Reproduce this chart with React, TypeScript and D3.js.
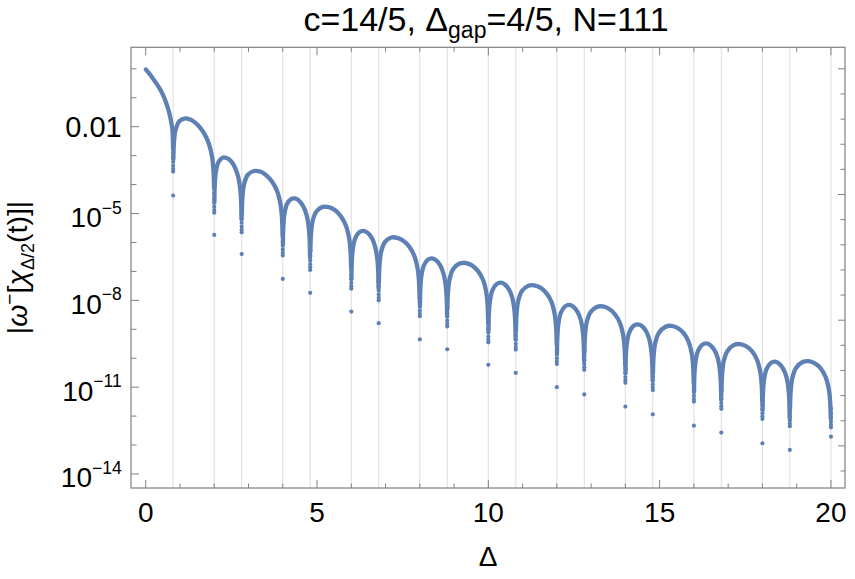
import React from "react";
import * as d3 from "d3";

// ---------- data ----------
// zeros of the curve (also the vertical grid lines)
const zeros = [0, 0.8, 2, 2.8, 4, 4.8, 6, 6.8, 8, 8.8, 10, 10.8, 12, 12.8, 14, 14.8, 16, 16.8, 18, 18.8, 20];

// first half-lobe, Δ from 0 to 0.8 (log10 values)
const firstLobeX = [0, 0.1, 0.22, 0.32, 0.42, 0.5, 0.56, 0.62, 0.66, 0.7, 0.73, 0.76, 0.78, 0.79, 0.797];
const firstLobeLog = [-0.02, -0.16, -0.35, -0.52, -0.71, -0.89, -1.06, -1.26, -1.41, -1.59, -1.755, -1.95, -2.12, -2.4, -2.75];

// relative positions inside each lobe (between consecutive zeros)
const lobeT = [0.005, 0.02, 0.06, 0.15, 0.3, 0.45, 0.6, 0.75, 0.87, 0.95, 0.98, 0.995];
// log10 |ω⁻| for lobes 1..19 at lobeT
const lobeLogs = [
  [-3.13, -2.54, -2.11, -1.81, -1.71, -1.77, -1.94, -2.22, -2.59, -3.07, -3.5, -4.12],
  [-4.61, -4.02, -3.56, -3.23, -3.07, -3.08, -3.18, -3.4, -3.72, -4.18, -4.59, -5.2],
  [-5.02, -4.43, -3.98, -3.66, -3.53, -3.55, -3.68, -3.92, -4.26, -4.73, -5.15, -5.76],
  [-6.07, -5.48, -5.02, -4.68, -4.5, -4.48, -4.56, -4.76, -5.06, -5.5, -5.91, -6.52],
  [-6.31, -5.72, -5.26, -4.93, -4.77, -4.78, -4.88, -5.1, -5.42, -5.88, -6.29, -6.9],
  [-7.25, -6.65, -6.19, -5.84, -5.64, -5.6, -5.67, -5.85, -6.15, -6.58, -6.98, -7.59],
  [-7.37, -6.78, -6.32, -5.99, -5.83, -5.84, -5.94, -6.16, -6.48, -6.94, -7.35, -7.96],
  [-8.2, -7.6, -7.14, -6.79, -6.59, -6.55, -6.62, -6.8, -7.1, -7.53, -7.93, -8.54],
  [-8.3, -7.71, -7.25, -6.91, -6.73, -6.71, -6.79, -6.99, -7.29, -7.73, -8.14, -8.75],
  [-9.07, -8.47, -8.01, -7.65, -7.44, -7.39, -7.45, -7.62, -7.9, -8.33, -8.73, -9.34],
  [-9.07, -8.48, -8.02, -7.68, -7.5, -7.48, -7.56, -7.76, -8.06, -8.5, -8.91, -9.52],
  [-9.84, -9.24, -8.78, -8.42, -8.21, -8.16, -8.22, -8.39, -8.67, -9.1, -9.5, -10.11],
  [-9.8, -9.21, -8.75, -8.41, -8.23, -8.21, -8.29, -8.49, -8.79, -9.23, -9.64, -10.25],
  [-10.51, -9.91, -9.45, -9.09, -8.88, -8.83, -8.89, -9.06, -9.34, -9.77, -10.17, -10.78],
  [-10.53, -9.93, -9.47, -9.12, -8.92, -8.88, -8.95, -9.13, -9.43, -9.86, -10.26, -10.87],
  [-11.17, -10.57, -10.11, -9.75, -9.54, -9.49, -9.55, -9.72, -10.0, -10.43, -10.83, -11.44],
  [-11.16, -10.56, -10.1, -9.75, -9.55, -9.51, -9.58, -9.76, -10.06, -10.49, -10.89, -11.5],
  [-11.8, -11.2, -10.74, -10.38, -10.17, -10.12, -10.18, -10.35, -10.63, -11.06, -11.46, -12.07],
  [-11.75, -11.15, -10.69, -10.34, -10.14, -10.1, -10.17, -10.35, -10.65, -11.08, -11.48, -12.09],
];

// isolated lowest dot at each zero (zeros[1..20])
const dipLowLog = [-4.38, -5.74, -6.4, -7.26, -7.74, -8.39, -8.79, -9.35, -9.69, -10.23, -10.51, -11.0, -11.25, -11.67, -11.94, -12.33, -12.57, -12.94, -13.17, -12.71];
// bottom of the dotted cluster at each zero
const clusterLowLog = [-3.55, -4.97, -5.65, -6.45, -6.95, -7.6, -8.0, -8.55, -8.9, -9.45, -9.7, -10.2, -10.4, -10.85, -11.1, -11.5, -11.75, -12.1, -12.35, -12.39];
// spacing of the cluster dots above its bottom (decades)
const clusterRise = [0, 0.09, 0.2, 0.33, 0.48, 0.65];

// ticks
const xTickValues = [0, 1, 2, 3, 4, 5, 6, 7, 8, 9, 10, 11, 12, 13, 14, 15, 16, 17, 18, 19, 20];
const xTickLabels = [0, 5, 10, 15, 20];
const yTickExps = [0, -1, -2, -3, -4, -5, -6, -7, -8, -9, -10, -11, -12, -13, -14];
const yLabelExps = [-2, -5, -8, -11, -14];
const rightTickLnExps = [0, -2, -4, -6, -8, -10, -12, -14, -16, -18, -20, -22, -24, -26, -28, -30, -32];

const BLUE = "#5E81B5";
const FRAME = "#808080";
const FONT = "'Liberation Sans', Arial, sans-serif";

export default function App() {
  const L = 131, R = 845, T = 47.3, B = 488;
  const x = d3.scaleLinear().domain([-0.43, 20.41]).range([L, R]);
  const y = d3.scaleLog().domain([Math.pow(10, -14.485), Math.pow(10, 0.744)]).range([B, T]);
  const ly = (v: number) => y(Math.pow(10, v));
  const line = d3
    .line<[number, number]>()
    .x((d) => x(d[0]))
    .y((d) => ly(d[1]))
    .curve(d3.curveCatmullRom.alpha(0.5));

  const lobes: [number, number][][] = [];
  lobes.push(firstLobeX.map((v, i) => [v, firstLobeLog[i]] as [number, number]));
  lobeLogs.forEach((vals, k) => {
    const a = zeros[k + 1], b = zeros[k + 2];
    lobes.push(vals.map((v, i) => [a + lobeT[i] * (b - a), v] as [number, number]));
  });

  const dots: { x: number; v: number }[] = [];
  zeros.slice(1).forEach((z, i) => {
    clusterRise.forEach((r) => dots.push({ x: z, v: clusterLowLog[i] + r }));
    dots.push({ x: z, v: dipLowLog[i] });
  });

  const tickFs = 28;

  return (
    <svg width={855} height={579} style={{ position: "absolute", left: 0, top: 0, background: "#fff" }} fontFamily={FONT}>
      <rect x={0} y={0} width={855} height={579} fill="#fff" />
      {/* grid lines */}
      {zeros.slice(1).map((z) => (
        <line key={"g" + z} x1={x(z)} x2={x(z)} y1={T} y2={B} stroke="#e2e2e2" strokeWidth={1.2} />
      ))}
      {/* curve */}
      {lobes.map((pts, i) => (
        <path key={"l" + i} d={line(pts) || ""} fill="none" stroke={BLUE} strokeWidth={4.3} strokeLinecap="round" strokeLinejoin="round" />
      ))}
      {dots.map((d, i) => (
        <circle key={"d" + i} cx={x(d.x)} cy={ly(d.v)} r={2.1} fill={BLUE} />
      ))}
      {/* frame */}
      <rect x={L} y={T} width={R - L} height={B - T} fill="none" stroke={FRAME} strokeWidth={1.2} />
      {/* bottom & top ticks */}
      {xTickValues.map((v) => {
        const len = v % 5 === 0 ? 8 : 4.5;
        return (
          <g key={"xt" + v}>
            <line x1={x(v)} x2={x(v)} y1={B} y2={B - len} stroke={FRAME} strokeWidth={1} />
            <line x1={x(v)} x2={x(v)} y1={T} y2={T + len} stroke={FRAME} strokeWidth={1} />
          </g>
        );
      })}
      {xTickLabels.map((v) => (
        <text key={"xl" + v} x={x(v)} y={522} fontSize={tickFs} textAnchor="middle" fill="#000">
          {v}
        </text>
      ))}
      {/* left ticks */}
      {yTickExps.map((e) => {
        const len = yLabelExps.includes(e) ? 8 : 5.5;
        return <line key={"yt" + e} x1={L} x2={L + len} y1={ly(e)} y2={ly(e)} stroke={FRAME} strokeWidth={1} />;
      })}
      {/* right ticks */}
      {rightTickLnExps.map((n) => {
        const v = n / Math.LN10;
        const len = n % 10 === 0 ? 7 : 4.5;
        return <line key={"rt" + n} x1={R} x2={R - len} y1={ly(v)} y2={ly(v)} stroke={FRAME} strokeWidth={1} />;
      })}
      {yLabelExps.map((e) =>
        e === -2 ? (
          <text key={"yl" + e} x={121.7} y={ly(e) + 10} fontSize={29} textAnchor="end" fill="#000">
            0.01
          </text>
        ) : (
          <text key={"yl" + e} x={121.7} y={ly(e) + 13.5} fontSize={tickFs} textAnchor="end" fill="#000">
            10
            <tspan dy={-13.5} fontSize={17.5}>
              {"\u2212" + String(-e)}
            </tspan>
          </text>
        )
      )}
      {/* title */}
      <text x={486} y={31} fontSize={34} textAnchor="middle" fill="#000">
        c=14/5, Δ
        <tspan dy={7} fontSize={23}>gap</tspan>
        <tspan dy={-7}>=4/5, N=111</tspan>
      </text>
      {/* x label */}
      <text x={488} y={566} fontSize={28} textAnchor="middle" fill="#000">
        Δ
      </text>
      {/* y label */}
      <text transform="translate(27,267.5) rotate(-90)" fontSize={28.5} textAnchor="middle" fill="#000">
        |<tspan fontStyle="italic">ω</tspan>
        <tspan dy={-11} fontSize={19}>−</tspan>
        <tspan dy={11}>[</tspan>
        <tspan fontStyle="italic">χ</tspan>
        <tspan dy={7} fontSize={18}>Δ/2</tspan>
        <tspan dy={-7}>(t)]|</tspan>
      </text>
    </svg>
  );
}
